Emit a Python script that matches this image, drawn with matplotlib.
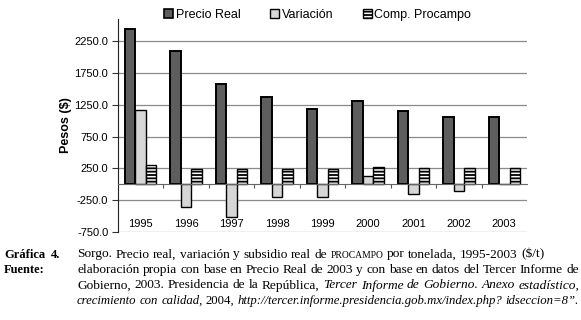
import matplotlib
matplotlib.use("Agg")
import matplotlib.pyplot as plt
from matplotlib.patches import Patch
import numpy as np

years = ["1995", "1996", "1997", "1998", "1999", "2000", "2001", "2002", "2003"]
precio_real = [2440, 2095, 1570, 1375, 1187, 1308, 1155, 1052, 1057]
variacion = [1166, -361, -518, -204, -195, 130, -148, -105, 0]
comp_procampo = [303, 245, 245, 235, 240, 267, 256, 256, 256]
series_names = ["Precio Real", "Variación", "Comp. Procampo"]
yticks = [2250, 1750, 1250, 750, 250, -250, -750]

plt.rcParams['font.family'] = ['Liberation Sans', 'DejaVu Sans']
plt.rcParams['hatch.linewidth'] = 1.3

fig = plt.figure(figsize=(5.81, 3.2), dpi=100)
ax = fig.add_axes([118/581, 1-232/320, 409/581, (232-19)/320])

x = np.arange(len(years))
w = 0.23
ax.bar(x - w, precio_real, w, color='#5e5e5e', edgecolor='black', linewidth=1.4, zorder=3)
ax.bar(x, variacion, w, color='#d6d6d6', edgecolor='black', linewidth=1.0, zorder=3)
ax.bar(x + w, comp_procampo, w, color='white', edgecolor='black', linewidth=1.0, hatch='-----', zorder=3)

ax.set_xlim(-0.5, len(years) - 0.5)
ax.set_ylim(-750, 2600)
ax.set_yticks(yticks)
ax.set_yticklabels([f"{v:.1f}" for v in yticks], fontsize=8)
ax.tick_params(axis='y', direction='out', length=4, width=0.8, pad=3, color='#333333')
ax.yaxis.grid(True, color='#8a8a8a', linewidth=0.9, zorder=0)

for s in ['top', 'right']:
    ax.spines[s].set_visible(False)
ax.spines['left'].set_color('#222222')
ax.spines['bottom'].set_position(('data', 0))
ax.spines['bottom'].set_color('#666666')
ax.spines['bottom'].set_zorder(4)

ax.set_xticks(x)
ax.set_xticklabels(years, fontsize=8)
ax.tick_params(axis='x', which='major', length=0, pad=25)
ax.set_xticks(np.arange(len(years) - 1) + 0.5, minor=True)
ax.tick_params(axis='x', which='minor', direction='out', length=3, width=0.8, color='#555555')

ax.set_ylabel("Pesos ($)", fontsize=9, fontweight='bold', labelpad=2)

handles = [
    Patch(facecolor='#5e5e5e', edgecolor='black', linewidth=1.2),
    Patch(facecolor='#d6d6d6', edgecolor='black', linewidth=1.0),
    Patch(facecolor='white', edgecolor='black', linewidth=1.0, hatch='-----'),
]
fig.legend(handles, series_names, loc='center', bbox_to_anchor=(0.5465, 0.953), ncol=3,
           frameon=False, fontsize=9, handlelength=0.75, handleheight=0.75,
           handletextpad=0.2, columnspacing=2.35, borderpad=0)

# caption
serif = ['Liberation Serif', 'DejaVu Serif']
CAP_FS = 9.6
fig.canvas.draw()
renderer = fig.canvas.get_renderer()

def make_kw(style, fs):
    kw = dict(family=serif, fontsize=fs, va='baseline', ha='left')
    if style == 'italic':
        kw['style'] = 'italic'
    elif style == 'small':
        kw['fontsize'] = fs * 0.72
    elif style == 'bold':
        kw['weight'] = 'bold'
    return kw

def measure(txt, style, fs):
    t = fig.text(0, 0, txt, **make_kw(style, fs))
    wpx = t.get_window_extent(renderer=renderer).width
    t.remove()
    return wpx

def tokenize(segments):
    tokens = []
    for txt, style in segments:
        parts = txt.split(' ')
        for i, p in enumerate(parts):
            if p == '':
                if tokens:
                    tokens[-1][2] = True
                continue
            tokens.append([p, style, False])
            if i < len(parts) - 1:
                tokens[-1][2] = True
    if tokens:
        tokens[-1][2] = False
    return tokens

def draw_line(x0_px, y_px, segments, justify_to=None, fs=CAP_FS):
    tokens = tokenize(segments)
    for _ in range(6):
        space_w = measure('a a', 'normal', fs) - measure('aa', 'normal', fs)
        widths = [measure(tk[0], tk[1], fs) for tk in tokens]
        nspaces = sum(1 for tk in tokens if tk[2])
        natural = sum(widths) + nspaces * space_w
        extra = 0.0
        if justify_to is not None and nspaces > 0:
            extra = (justify_to - x0_px - natural) / nspaces
            if extra < -0.45 * space_w:
                fs *= (justify_to - x0_px) / (natural - 0.45 * space_w * nspaces)
                continue
        break
    xpos = x0_px
    for (word, style, sp), wd in zip(tokens, widths):
        fig.text(xpos / 581, 1 - y_px / 320, word, **make_kw(style, fs))
        xpos += wd
        if sp:
            xpos += space_w + extra

base = [257.5, 273, 288.5, 304]
X0 = 77
RIGHT = 579
draw_line(4, base[0], [("Gráfica", 'bold')], fs=9.0)
draw_line(51, base[0], [("4.", 'bold')], fs=9.0)
draw_line(4, base[1], [("Fuente:", 'bold')], fs=9.0)
draw_line(X0, base[0], [("Sorgo. Precio real, variación y subsidio real de ", 'normal'),
                        ("PROCAMPO", 'small'),
                        (" por tonelada, 1995-2003 ($/t)", 'normal')])
draw_line(X0, base[1], [("elaboración propia con base en Precio Real de 2003 y con base en datos del Tercer Informe de", 'normal')], justify_to=RIGHT)
draw_line(X0, base[2], [("Gobierno, 2003. Presidencia de la República, ", 'normal'),
                        ("Tercer Informe de Gobierno. Anexo estadístico,", 'italic')], justify_to=RIGHT)
draw_line(X0, base[3], [("crecimiento con calidad,", 'italic'), (" 2004, ", 'normal'),
                        ("http://tercer.informe.presidencia.gob.mx/index.php? idseccion=8\u201d.", 'italic')], justify_to=RIGHT)

fig.savefig("out.png", dpi=100)
